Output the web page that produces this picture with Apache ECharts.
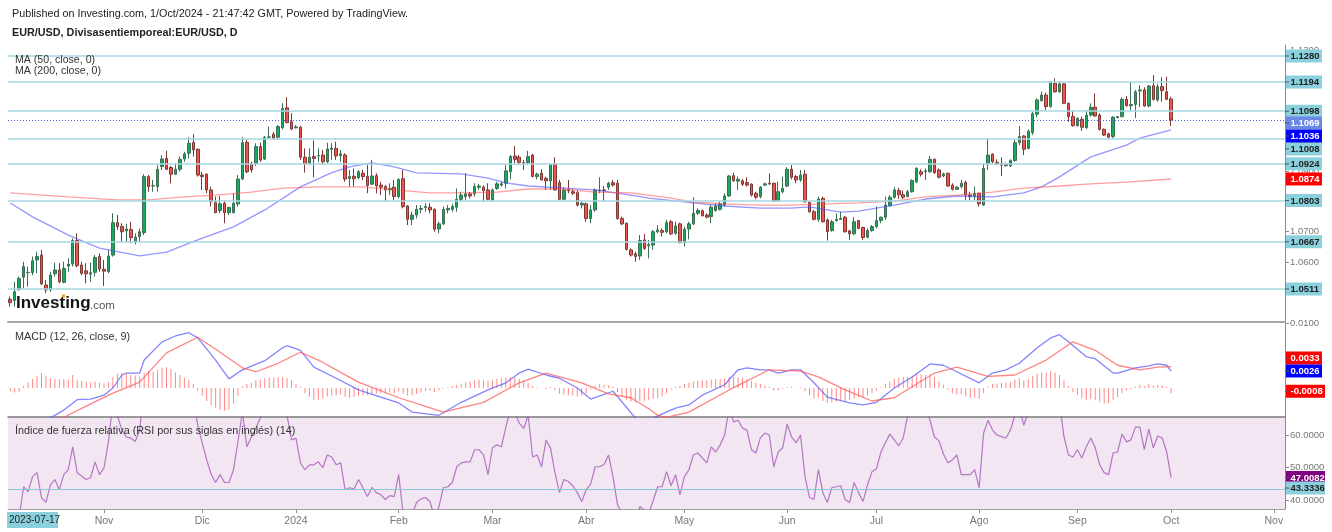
<!DOCTYPE html>
<html>
<head>
<meta charset="utf-8">
<title>EUR/USD</title>
<script src="https://cdn.jsdelivr.net/npm/echarts@6.0.0/dist/echarts.min.js"></script>
<style>
html,body{margin:0;padding:0;background:#ffffff;}
#chart{width:1332px;height:532px;}
</style>
</head>
<body>
<div id="chart"></div>
<script>
// ================= DATA =================
const firstSession = '2023-10-03';
const sessionSlots = 286;                 // weekdays shown on the time axis (incl. empty future)
const monthNames = ['2024','Feb','Mar','Abr','May','Jun','Jul','Ago','Sep','Oct','Nov','Dic'];

// daily candles [open, close, low, high]
const ohlc = [
[1.0477,1.0466,1.0453,1.0486],[1.0473,1.0502,1.0453,1.0535],[1.0510,1.0546,1.0505,1.0552],[1.0550,1.0585,1.0513,1.0601],
[1.0565,1.0566,1.0519,1.0585],[1.0565,1.0604,1.0557,1.0618],[1.0607,1.0618,1.0563,1.0634],[1.0623,1.0528,1.0524,1.0640],
[1.0524,1.0508,1.0497,1.0541],[1.0508,1.0557,1.0502,1.0568],[1.0561,1.0574,1.0552,1.0598],[1.0574,1.0535,1.0530,1.0596],
[1.0533,1.0579,1.0530,1.0601],[1.0587,1.0593,1.0568,1.0612],[1.0594,1.0671,1.0585,1.0678],[1.0671,1.0588,1.0583,1.0695],
[1.0590,1.0563,1.0557,1.0601],[1.0571,1.0561,1.0530,1.0596],[1.0560,1.0565,1.0535,1.0598],[1.0566,1.0615,1.0552,1.0623],
[1.0618,1.0577,1.0568,1.0629],[1.0576,1.0570,1.0521,1.0607],[1.0568,1.0620,1.0563,1.0640],[1.0623,1.0730,1.0618,1.0761],
[1.0730,1.0717,1.0706,1.0755],[1.0717,1.0700,1.0667,1.0728],[1.0703,1.0709,1.0664,1.0726],[1.0707,1.0681,1.0662,1.0733],
[1.0667,1.0682,1.0658,1.0695],[1.0684,1.0700,1.0667,1.0711],[1.0697,1.0882,1.0689,1.0890],[1.0882,1.0849,1.0832,1.0887],
[1.0851,1.0852,1.0832,1.0871],[1.0849,1.0906,1.0832,1.0920],[1.0915,1.0940,1.0904,1.0953],[1.0942,1.0906,1.0904,1.0967],
[1.0912,1.0890,1.0860,1.0917],[1.0890,1.0906,1.0887,1.0926],[1.0906,1.0939,1.0898,1.0948],[1.0940,1.0957,1.0931,1.0964],
[1.0959,1.0992,1.0942,1.1012],[1.0994,1.0970,1.0948,1.1022],[1.0972,1.0887,1.0882,1.0975],[1.0887,1.0882,1.0838,1.0898],
[1.0890,1.0838,1.0827,1.0893],[1.0838,1.0799,1.0783,1.0849],[1.0796,1.0763,1.0761,1.0816],[1.0770,1.0792,1.0761,1.0818],
[1.0794,1.0763,1.0728,1.0803],[1.0763,1.0780,1.0755,1.0783],[1.0763,1.0794,1.0761,1.0827],[1.0792,1.0874,1.0783,1.0887],
[1.0874,1.0994,1.0871,1.1012],[1.0995,1.0898,1.0893,1.1003],[1.0924,1.0904,1.0895,1.0931],[1.0926,1.0981,1.0917,1.0992],
[1.0981,1.0937,1.0931,1.0994],[1.0940,1.1011,1.0937,1.1016],[1.1012,1.1013,1.1008,1.1047],[1.1022,1.1008,1.1005,1.1030],
[1.1012,1.1047,1.1003,1.1052],[1.1043,1.1107,1.1038,1.1124],[1.1109,1.1060,1.1058,1.1144],[1.1063,1.1039,1.1036,1.1091],
[1.1043,1.1046,1.1041,1.1052],[1.1045,1.0946,1.0937,1.1049],[1.0946,1.0924,1.0895,1.0975],[1.0924,1.0946,1.0920,1.0975],
[1.0948,1.0942,1.0880,1.1001],[1.0950,1.0951,1.0931,1.0975],[1.0953,1.0931,1.0920,1.0970],[1.0931,1.0973,1.0926,1.0994],
[1.0972,1.0976,1.0937,1.0992],[1.0975,1.0950,1.0937,1.0997],[1.0951,1.0957,1.0931,1.0970],[1.0953,1.0874,1.0865,1.0959],
[1.0876,1.0882,1.0849,1.0904],[1.0883,1.0875,1.0849,1.0909],[1.0878,1.0898,1.0873,1.0904],[1.0893,1.0882,1.0871,1.0904],
[1.0882,1.0853,1.0827,1.0920],[1.0857,1.0884,1.0854,1.0937],[1.0885,1.0851,1.0827,1.0893],[1.0854,1.0847,1.0821,1.0865],
[1.0849,1.0838,1.0799,1.0854],[1.0838,1.0843,1.0821,1.0860],[1.0847,1.0816,1.0805,1.0871],[1.0816,1.0873,1.0810,1.0876],
[1.0875,1.0783,1.0777,1.0904],[1.0785,1.0741,1.0722,1.0788],[1.0741,1.0755,1.0722,1.0766],[1.0755,1.0774,1.0744,1.0788],
[1.0774,1.0777,1.0761,1.0788],[1.0780,1.0783,1.0766,1.0794],[1.0781,1.0772,1.0761,1.0794],[1.0774,1.0708,1.0700,1.0777],
[1.0709,1.0726,1.0695,1.0733],[1.0726,1.0774,1.0722,1.0783],[1.0772,1.0777,1.0761,1.0788],[1.0774,1.0783,1.0766,1.0792],
[1.0781,1.0807,1.0766,1.0843],[1.0807,1.0821,1.0799,1.0832],[1.0816,1.0825,1.0805,1.0893],[1.0825,1.0818,1.0810,1.0831],
[1.0825,1.0849,1.0816,1.0860],[1.0847,1.0851,1.0838,1.0858],[1.0847,1.0836,1.0799,1.0853],[1.0838,1.0807,1.0803,1.0860],
[1.0805,1.0838,1.0799,1.0843],[1.0843,1.0858,1.0838,1.0865],[1.0854,1.0858,1.0849,1.0865],[1.0860,1.0901,1.0843,1.0920],
[1.0898,1.0948,1.0873,1.0953],[1.0950,1.0939,1.0926,1.0983],[1.0946,1.0929,1.0920,1.0953],[1.0928,1.0926,1.0904,1.0937],
[1.0928,1.0948,1.0924,1.0967],[1.0953,1.0882,1.0880,1.0957],[1.0882,1.0890,1.0873,1.0895],[1.0893,1.0871,1.0869,1.0906],
[1.0876,1.0868,1.0838,1.0882],[1.0868,1.0920,1.0838,1.0926],[1.0924,1.0838,1.0836,1.0946],[1.0862,1.0807,1.0805,1.0871],
[1.0807,1.0838,1.0805,1.0847],[1.0838,1.0835,1.0827,1.0871],[1.0832,1.0827,1.0821,1.0840],[1.0829,1.0788,1.0783,1.0836],
[1.0788,1.0794,1.0777,1.0799],[1.0792,1.0744,1.0733,1.0796],[1.0744,1.0772,1.0728,1.0788],[1.0772,1.0838,1.0766,1.0843],
[1.0835,1.0838,1.0827,1.0880],[1.0838,1.0836,1.0799,1.0851],[1.0847,1.0860,1.0838,1.0865],[1.0862,1.0854,1.0849,1.0871],
[1.0860,1.0744,1.0739,1.0871],[1.0744,1.0726,1.0722,1.0750],[1.0728,1.0642,1.0638,1.0730],[1.0640,1.0623,1.0618,1.0645],
[1.0627,1.0618,1.0601,1.0634],[1.0620,1.0671,1.0607,1.0689],[1.0673,1.0645,1.0640,1.0693],[1.0654,1.0658,1.0612,1.0673],
[1.0656,1.0700,1.0640,1.0706],[1.0700,1.0706,1.0695,1.0722],[1.0704,1.0698,1.0684,1.0711],[1.0700,1.0730,1.0695,1.0739],
[1.0733,1.0693,1.0689,1.0739],[1.0695,1.0719,1.0689,1.0733],[1.0726,1.0664,1.0662,1.0730],[1.0664,1.0708,1.0651,1.0717],
[1.0709,1.0726,1.0675,1.0733],[1.0726,1.0761,1.0722,1.0814],[1.0761,1.0770,1.0755,1.0777],[1.0769,1.0753,1.0750,1.0774],
[1.0755,1.0748,1.0744,1.0761],[1.0750,1.0781,1.0728,1.0788],[1.0770,1.0785,1.0766,1.0794],[1.0774,1.0792,1.0770,1.0799],
[1.0788,1.0818,1.0783,1.0827],[1.0818,1.0884,1.0816,1.0887],[1.0885,1.0868,1.0865,1.0895],[1.0867,1.0873,1.0838,1.0882],
[1.0868,1.0857,1.0851,1.0873],[1.0862,1.0854,1.0849,1.0880],[1.0857,1.0821,1.0816,1.0860],[1.0827,1.0814,1.0807,1.0832],
[1.0816,1.0847,1.0810,1.0851],[1.0854,1.0858,1.0851,1.0862],[1.0860,1.0858,1.0854,1.0893],[1.0860,1.0802,1.0799,1.0862],
[1.0803,1.0832,1.0799,1.0865],[1.0832,1.0843,1.0827,1.0882],[1.0851,1.0906,1.0847,1.0913],[1.0906,1.0880,1.0873,1.0920],
[1.0882,1.0871,1.0860,1.0887],[1.0871,1.0887,1.0865,1.0904],[1.0890,1.0799,1.0796,1.0904],[1.0797,1.0766,1.0763,1.0799],
[1.0766,1.0741,1.0737,1.0772],[1.0741,1.0808,1.0733,1.0816],[1.0810,1.0733,1.0730,1.0816],[1.0739,1.0700,1.0671,1.0744],
[1.0704,1.0733,1.0700,1.0739],[1.0737,1.0741,1.0733,1.0761],[1.0741,1.0744,1.0739,1.0766],[1.0748,1.0700,1.0697,1.0752],
[1.0703,1.0693,1.0673,1.0706],[1.0693,1.0733,1.0689,1.0748],[1.0737,1.0711,1.0708,1.0739],[1.0714,1.0681,1.0673,1.0717],
[1.0682,1.0704,1.0678,1.0711],[1.0704,1.0717,1.0700,1.0722],[1.0717,1.0737,1.0711,1.0783],[1.0737,1.0748,1.0728,1.0750],
[1.0748,1.0788,1.0739,1.0816],[1.0786,1.0814,1.0783,1.0821],[1.0814,1.0838,1.0809,1.0847],[1.0836,1.0822,1.0808,1.0845],
[1.0822,1.0814,1.0808,1.0836],[1.0816,1.0832,1.0814,1.0838],[1.0832,1.0869,1.0829,1.0873],[1.0865,1.0909,1.0860,1.0913],
[1.0898,1.0890,1.0882,1.0906],[1.0898,1.0901,1.0871,1.0909],[1.0898,1.0939,1.0895,1.0950],[1.0939,1.0895,1.0891,1.0942],
[1.0904,1.0880,1.0876,1.0909],[1.0884,1.0891,1.0880,1.0895],[1.0893,1.0851,1.0849,1.0895],[1.0854,1.0840,1.0836,1.0860],
[1.0840,1.0847,1.0838,1.0851],[1.0849,1.0860,1.0843,1.0871],[1.0863,1.0821,1.0805,1.0869],[1.0821,1.0816,1.0805,1.0832],
[1.0816,1.0827,1.0805,1.0849],[1.0827,1.0792,1.0783,1.0829],[1.0788,1.0909,1.0785,1.0926],[1.0924,1.0953,1.0904,1.1008],
[1.0956,1.0931,1.0926,1.0959],[1.0929,1.0924,1.0920,1.0939],[1.0924,1.0920,1.0884,1.0946],[1.0918,1.0922,1.0915,1.0928],
[1.0917,1.0935,1.0915,1.0939],[1.0935,1.0994,1.0931,1.1003],[1.0994,1.1014,1.0986,1.1049],[1.1016,1.0972,1.0953,1.1019],
[1.0975,1.1032,1.0972,1.1038],[1.1027,1.1089,1.1019,1.1096],[1.1088,1.1135,1.1078,1.1140],[1.1133,1.1151,1.1129,1.1162],
[1.1151,1.1113,1.1102,1.1159],[1.1113,1.1193,1.1110,1.1197],[1.1190,1.1162,1.1159,1.1206],[1.1162,1.1188,1.1159,1.1195],
[1.1188,1.1124,1.1121,1.1190],[1.1124,1.1080,1.1063,1.1126],[1.1080,1.1050,1.1047,1.1099],[1.1050,1.1074,1.1047,1.1078],
[1.1071,1.1045,1.1033,1.1080],[1.1044,1.1085,1.1039,1.1102],[1.1085,1.1111,1.1080,1.1124],[1.1111,1.1082,1.1080,1.1157],
[1.1085,1.1038,1.1034,1.1091],[1.1038,1.1019,1.1016,1.1041],[1.1023,1.1012,1.1008,1.1027],[1.1014,1.1078,1.1008,1.1082],
[1.1077,1.1080,1.1074,1.1082],[1.1080,1.1137,1.1077,1.1144],[1.1137,1.1116,1.1113,1.1148],[1.1116,1.1120,1.1102,1.1192],
[1.1120,1.1162,1.1075,1.1168],[1.1165,1.1168,1.1112,1.1184],[1.1168,1.1115,1.1113,1.1177],[1.1115,1.1181,1.1111,1.1184],
[1.1182,1.1137,1.1133,1.1217],[1.1135,1.1179,1.1129,1.1188],[1.1179,1.1166,1.1129,1.1210],[1.1162,1.1137,1.1135,1.1212],
[1.1138,1.1069,1.1049,1.1146]
];

// moving averages: [session index, value]
const ma50Pts = [[0,1.0795],[5,1.0749],[13,1.0689],[20,1.0646],[29,1.0620],[35,1.0633],[42,1.0673],[50,1.0716],[57,1.0772],[65,1.0848],[72,1.0895],[76,1.0914],[81,1.0927],[86,1.0914],[91,1.0894],[101,1.0891],[107,1.0877],[111,1.0861],[116,1.0851],[124,1.0844],[131,1.0838],[139,1.0821],[143,1.0811],[153,1.0795],[160,1.0785],[168,1.0778],[175,1.0778],[179,1.0782],[186,1.0765],[190,1.0768],[198,1.0788],[205,1.0808],[212,1.0818],[220,1.0815],[227,1.0828],[231,1.0848],[235,1.0881],[242,1.0947],[250,1.0986],[253,1.1009],[260,1.1036]];
const ma200Pts = [[0,1.0828],[13,1.0815],[24,1.0805],[31,1.0805],[39,1.0815],[46,1.0821],[54,1.0831],[61,1.0844],[69,1.0848],[79,1.0848],[86,1.0838],[94,1.0828],[101,1.0828],[109,1.0831],[116,1.0841],[124,1.0841],[131,1.0831],[139,1.0828],[148,1.0811],[153,1.0798],[160,1.0792],[168,1.0788],[175,1.0788],[183,1.0792],[190,1.0795],[198,1.0801],[205,1.0815],[212,1.0821],[220,1.0831],[227,1.0844],[235,1.0851],[242,1.0858],[250,1.0864],[260,1.0874]];

// MACD (12,26,9)
const macdPts = [[0,-0.0075],[4,-0.0062],[9,-0.0046],[12,-0.0034],[15,-0.0018],[18,-0.0017],[21,-0.0011],[23,0.0000],[25,0.0020],[26,0.0023],[29,0.0023],[30,0.0043],[34,0.0071],[37,0.0080],[40,0.0085],[42,0.0077],[46,0.0043],[49,0.0014],[52,0.0028],[57,0.0042],[61,0.0062],[62,0.0065],[65,0.0058],[68,0.0032],[73,0.0015],[78,-0.0003],[83,-0.0014],[87,-0.0023],[90,-0.0037],[96,-0.0042],[101,-0.0022],[107,-0.0003],[111,0.0008],[114,0.0023],[116,0.0029],[120,0.0020],[123,0.0015],[127,0.0000],[130,-0.0017],[135,-0.0005],[140,-0.0046],[142,-0.0053],[145,-0.0043],[149,-0.0031],[152,-0.0026],[155,-0.0011],[160,0.0005],[163,0.0028],[165,0.0031],[168,0.0028],[170,0.0028],[172,0.0023],[175,0.0028],[177,0.0028],[180,0.0008],[183,-0.0014],[188,-0.0023],[191,-0.0026],[194,-0.0022],[198,0.0000],[202,0.0017],[206,0.0037],[209,0.0035],[212,0.0025],[217,0.0008],[220,0.0023],[223,0.0028],[226,0.0038],[230,0.0062],[233,0.0077],[235,0.0082],[237,0.0071],[241,0.0048],[243,0.0045],[247,0.0023],[248,0.0023],[252,0.0031],[255,0.0034],[257,0.0037],[259,0.0035],[260,0.0026]];
const signalPts = [[0,-0.0072],[6,-0.0058],[12,-0.0045],[17,-0.0028],[23,-0.0008],[29,0.0009],[35,0.0054],[42,0.0078],[47,0.0055],[52,0.0031],[55,0.0025],[60,0.0038],[65,0.0055],[69,0.0043],[78,0.0009],[87,-0.0015],[97,-0.0037],[106,-0.0022],[114,0.0008],[120,0.0023],[128,0.0008],[134,-0.0009],[139,-0.0015],[143,-0.0032],[145,-0.0042],[147,-0.0045],[152,-0.0037],[161,-0.0003],[170,0.0028],[177,0.0026],[181,0.0017],[187,-0.0003],[193,-0.0020],[198,-0.0015],[207,0.0023],[212,0.0032],[219,0.0018],[225,0.0020],[232,0.0043],[238,0.0071],[243,0.0058],[248,0.0035],[253,0.0028],[257,0.0032],[260,0.0033]];
const histVals = [
-0.0005,-0.0007,-0.0006,0.0003,0.0009,0.0014,0.0019,0.0023,0.0018,0.0015,0.0014,0.0013,0.0014,0.0013,0.0020,0.0012,0.0011,0.0010,0.0009,0.0010,
0.0008,0.0007,0.0009,0.0017,0.0022,0.0023,0.0021,0.0020,0.0019,0.0018,0.0024,0.0026,0.0025,0.0028,0.0031,0.0032,0.0029,0.0024,0.0020,0.0016,
0.0012,0.0006,-0.0004,-0.0012,-0.0020,-0.0026,-0.0031,-0.0034,-0.0035,-0.0033,-0.0024,-0.0012,0.0002,0.0006,0.0008,0.0012,0.0013,0.0015,0.0016,0.0016,
0.0017,0.0017,0.0015,0.0012,0.0006,0.0002,-0.0008,-0.0014,-0.0018,-0.0018,-0.0016,-0.0013,-0.0012,-0.0011,-0.0010,-0.0014,-0.0015,-0.0014,-0.0012,-0.0011,
-0.0011,-0.0009,-0.0009,-0.0008,-0.0008,-0.0007,-0.0008,-0.0005,-0.0009,-0.0012,-0.0011,-0.0009,-0.0007,-0.0005,-0.0004,-0.0006,-0.0004,-0.0001,0.0001,0.0003,
0.0005,0.0007,0.0009,0.0010,0.0012,0.0013,0.0012,0.0011,0.0012,0.0014,0.0015,0.0016,0.0017,0.0016,0.0014,0.0011,0.0008,0.0003,0.0001,0.0000,
-0.0002,0.0001,-0.0004,-0.0009,-0.0010,-0.0011,-0.0012,-0.0013,-0.0012,-0.0008,-0.0002,0.0004,0.0006,0.0005,0.0004,0.0002,-0.0006,-0.0012,-0.0018,-0.0021,
-0.0022,-0.0020,-0.0020,-0.0019,-0.0017,-0.0016,-0.0013,-0.0008,-0.0002,0.0002,0.0003,0.0006,0.0008,0.0010,0.0011,0.0012,0.0012,0.0013,0.0014,0.0014,
0.0015,0.0017,0.0017,0.0016,0.0015,0.0013,0.0011,0.0008,0.0006,0.0004,0.0002,-0.0004,-0.0004,-0.0001,0.0001,0.0002,0.0000,0.0001,-0.0005,-0.0011,
-0.0016,-0.0015,-0.0020,-0.0023,-0.0022,-0.0021,-0.0019,-0.0020,-0.0019,-0.0016,-0.0014,-0.0014,-0.0011,-0.0008,-0.0004,0.0001,0.0006,0.0010,0.0014,0.0016,
0.0017,0.0017,0.0019,0.0022,0.0021,0.0020,0.0021,0.0017,0.0010,0.0005,-0.0002,-0.0008,-0.0010,-0.0010,-0.0013,-0.0015,-0.0015,-0.0017,-0.0008,0.0002,
0.0006,0.0007,0.0008,0.0008,0.0009,0.0013,0.0015,0.0012,0.0014,0.0018,0.0022,0.0024,0.0023,0.0026,0.0024,0.0020,0.0012,0.0003,-0.0006,-0.0011,
-0.0016,-0.0018,-0.0017,-0.0019,-0.0022,-0.0024,-0.0023,-0.0018,-0.0014,-0.0008,-0.0004,-0.0002,0.0002,0.0005,0.0003,0.0006,0.0004,0.0005,0.0004,0.0002,
-0.0008
];

// RSI (14): [session index, value]
const rsiPts = [[0,36],[2,35],[3,44.2],[4,42.7],[5,47.3],[6,48.5],[7,40.9],[8,39.4],[9,44.8],[10,46.4],[11,43.3],[12,47.9],[13,49.4],[14,56.4],[15,48.5],[17,46.4],[18,47.0],[19,51.8],[20,47.9],[21,50.0],[22,58],[23,70],[24,66],[25,61.5],[26,59.4],[27,59.1],[28,58],[29,61.5],[30,75],[31,70],[32,70],[33,72],[34,73],[35,70],[36,68],[37,69],[38,71],[39,72],[40,74],[41,71],[42,63],[43,57.6],[44,52.4],[45,48],[46,45.5],[47,47.9],[48,45.5],[49,45.5],[50,49.4],[51,58],[52,67],[53,56.4],[54,59.4],[55,62],[56,65.2],[57,68],[58,69],[59,68],[60,70],[61,74],[62,66],[63,58.5],[64,59],[65,51.5],[66,49.4],[67,50.9],[68,50.9],[69,51.8],[70,50.0],[71,53.9],[72,53.3],[73,50.9],[74,51.5],[75,43.3],[76,43.9],[77,43.5],[78,46.4],[79,43.9],[80,41.2],[81,44],[82,42.4],[83,41.8],[84,40.3],[85,41.5],[86,41.2],[87,47.9],[88,36],[89,33],[90,36],[91,39.4],[92,40.5],[93,40.9],[94,39.7],[95,35],[96,38],[97,43.9],[98,44.2],[99,45.5],[100,50.3],[101,51.5],[102,51.8],[103,51.8],[104,55.5],[105,55.5],[106,53.9],[107,47.9],[108,56.1],[109,57],[110,56.4],[111,62.4],[112,68],[113,67],[114,63.6],[115,62],[116,66],[117,53.3],[118,53.9],[119,50.3],[120,58.5],[121,56],[122,48.5],[123,42.4],[124,46.4],[125,45.8],[126,44.5],[127,42.4],[128,39.7],[129,43.3],[130,45],[131,50.3],[132,50.3],[133,51],[134,53.9],[135,47.3],[136,38.8],[137,36],[138,33],[139,31],[140,30],[141,38.2],[142,37],[143,36],[144,40],[145,44.2],[146,44.2],[147,48.8],[148,44.5],[149,47.9],[150,41.8],[151,47.3],[152,49.4],[153,53.9],[154,54.5],[155,53.0],[156,51.5],[157,56.4],[158,54.8],[159,57.0],[160,60.0],[161,68],[162,64.0],[163,64.5],[164,62.1],[165,61.5],[166,55.5],[167,54.5],[168,59.1],[169,60.6],[170,60.0],[171,50.3],[172,54.8],[173,56.1],[174,63.3],[175,59.4],[176,57.6],[177,60.0],[178,47.3],[179,40.9],[180,40.3],[181,49.4],[182,42.4],[183,39.4],[184,43.9],[185,44.2],[186,44.5],[187,40.3],[188,39.4],[189,45.5],[190,42.4],[191,39.7],[192,44.8],[193,48.8],[194,49.7],[195,54.8],[196,57.6],[197,60.3],[198,58.5],[199,56.7],[200,59.1],[201,66],[202,68],[203,72],[204,70],[205,69],[206,64.5],[207,59.4],[208,58.2],[209,54.2],[210,51.5],[211,52.4],[212,53.9],[213,47.9],[214,47.9],[215,47.9],[216,49.4],[217,43.9],[218,60.6],[219,64.5],[220,61.5],[221,60.0],[222,59.5],[223,59.1],[224,61.5],[225,66],[226,68],[227,63],[228,67],[229,72],[230,76],[231,77],[232,74],[233,78],[234,75],[235,70],[236,59.4],[237,53.9],[238,53.3],[239,55.5],[240,53.0],[241,56.4],[242,59.1],[243,56.1],[244,50.9],[245,48.5],[246,47.9],[247,54.5],[248,54.8],[249,60.3],[250,57.9],[251,58.5],[252,62.4],[253,62.4],[254,55.5],[255,61.8],[256,56.1],[257,59.7],[258,59.1],[259,54.8],[260,47.0082]];

// horizontal levels and last values
const priceLevels = [1.1280, 1.1194, 1.1098, 1.1008, 1.0924, 1.0803, 1.0667, 1.0511];
const lastClose = 1.1069, ma50Last = 1.1036, ma200Last = 1.0874;
const macdLast = 0.0026, signalLast = 0.0033, histLast = -0.0008;
const rsiLast = 47.0082, rsiLevel = 43.3336;
const priceTicks = [1.05, 1.06, 1.07, 1.08, 1.09, 1.10, 1.11, 1.12, 1.13];
const macdTicks = [0, 0.01];
const rsiTicks = [40, 50, 60];

// ================= CHART =================
function weekdays(start, n) {
  const out = []; const d = new Date(start + 'T00:00:00Z');
  while (out.length < n) {
    const w = d.getUTCDay();
    if (w !== 0 && w !== 6) out.push(d.toISOString().slice(0, 10));
    d.setUTCDate(d.getUTCDate() + 1);
  }
  return out;
}
const categories = weekdays(firstSession, sessionSlots);
const monthOf = s => +s.slice(5, 7);
const isMonthStart = i => i > 0 && monthOf(categories[i]) !== monthOf(categories[i - 1]);

const FONT = 'Liberation Sans, Arial, sans-serif';
const CYAN_BOX = '#8ad0dd', CYAN_LINE = '#a4d8e3';
const L = 8, W = 1277;

const chart = echarts.init(document.getElementById('chart'), null, { renderer: 'canvas', width: 1332, height: 532 });

function xAx(gi, extra) {
  return Object.assign({
    type: 'category', gridIndex: gi, data: categories, boundaryGap: true,
    axisLine: { show: false }, axisTick: { show: false }, axisLabel: { show: false }, splitLine: { show: false }
  }, extra || {});
}
function yAx(gi, min, max, ticks, extra) {
  return Object.assign({
    type: 'value', gridIndex: gi, position: 'right', min: min, max: max,
    axisLine: { show: true, lineStyle: { color: '#8a8a8a', width: 1 } },
    axisTick: { show: true, length: 4, customValues: ticks, lineStyle: { color: '#8a8a8a' } },
    axisLabel: { show: true, customValues: ticks, formatter: v => v.toFixed(4), color: '#777777', fontSize: 9.5, fontFamily: FONT, margin: 5 },
    splitLine: { show: false }
  }, extra || {});
}

const option = {
  animation: false,
  backgroundColor: '#ffffff',
  grid: [
    { left: L, width: W, top: 45, height: 277 },
    { left: L, width: W, top: 322, height: 95 },
    { left: L, width: W, top: 417, height: 92, show: true, backgroundColor: '#f2e6f2', borderWidth: 0 }
  ],
  xAxis: [
    xAx(0, { axisLine: { show: true, onZero: false, lineStyle: { color: '#a8a8a8', width: 2 } } }),
    xAx(1, { axisLine: { show: true, onZero: false, lineStyle: { color: '#7a7a7a', width: 1.5 } } }),
    xAx(2, {
      axisLine: { show: true, onZero: false, lineStyle: { color: '#a0a0a0', width: 1 } },
      axisTick: { show: true, alignWithLabel: true, length: 4, interval: (i) => isMonthStart(i), lineStyle: { color: '#909090' } },
      axisLabel: {
        show: true, interval: (i) => isMonthStart(i), color: '#777777', fontSize: 10.5, fontFamily: FONT, margin: 7,
        formatter: (v) => monthNames[monthOf(v) - 1]
      }
    })
  ],
  yAxis: [
    yAx(0, 1.04021, 1.13163, priceTicks),
    yAx(1, -0.00446, 0.01015, macdTicks),
    yAx(2, 37.4, 65.5, rsiTicks)
  ],
  series: [
    { name: 'levels', type: 'line', xAxisIndex: 0, yAxisIndex: 0, data: [], z: 1, silent: true,
      markLine: { symbol: 'none', silent: true, precision: 4, label: { show: false }, animation: false,
        data: priceLevels.map(v => ({ yAxis: v, lineStyle: { color: CYAN_LINE, width: 1.5, type: 'solid' } }))
          .concat([{ yAxis: lastClose, lineStyle: { color: '#4a5ee0', width: 1, type: [1, 2] } }]) } },
    { name: 'EUR/USD', type: 'candlestick', xAxisIndex: 0, yAxisIndex: 0, data: ohlc, barWidth: 3, z: 3,
      itemStyle: { color: '#17a95f', color0: '#f0554d', borderColor: '#3b6e52', borderColor0: '#7c3832', borderWidth: 1 } },
    { name: 'MA50', type: 'line', xAxisIndex: 0, yAxisIndex: 0, data: ma50Pts, symbol: 'none', z: 4,
      lineStyle: { color: 'rgba(80,80,255,0.6)', width: 1.3 } },
    { name: 'MA200', type: 'line', xAxisIndex: 0, yAxisIndex: 0, data: ma200Pts, symbol: 'none', z: 4,
      lineStyle: { color: 'rgba(255,80,80,0.55)', width: 1.3 } },
    { name: 'Hist', type: 'bar', xAxisIndex: 1, yAxisIndex: 1, data: histVals, barWidth: 1,
      itemStyle: { color: 'rgba(255,70,70,0.65)' } },
    { name: 'MACD', type: 'line', xAxisIndex: 1, yAxisIndex: 1, data: macdPts, symbol: 'none',
      lineStyle: { color: 'rgba(90,90,255,0.75)', width: 1.3 } },
    { name: 'Signal', type: 'line', xAxisIndex: 1, yAxisIndex: 1, data: signalPts, symbol: 'none',
      lineStyle: { color: 'rgba(255,90,90,0.75)', width: 1.3 } },
    { name: 'RSI', type: 'line', xAxisIndex: 2, yAxisIndex: 2, data: rsiPts, symbol: 'none',
      lineStyle: { color: 'rgba(160,80,180,0.75)', width: 1.2 },
      markLine: { symbol: 'none', silent: true, precision: 4, label: { show: false }, animation: false,
        data: [{ yAxis: rsiLevel, lineStyle: { color: '#86c9da', width: 1.2, type: 'solid' } }] } }
  ]
};
chart.setOption(option);

// ---- right-axis value tags and texts ----
const tags = [
  ...priceLevels.map(v => ({ ax: 0, v: v, bg: CYAN_BOX, fg: '#1e1e1e', dy: v === 1.1008 ? 10.5 : 0 })),
  { ax: 0, v: lastClose, bg: '#6a86e6', fg: '#ffffff', dy: 3 },
  { ax: 0, v: ma50Last, bg: '#0000ff', fg: '#ffffff', dy: 6 },
  { ax: 0, v: ma200Last, bg: '#ff0000', fg: '#ffffff', dy: 0 },
  { ax: 1, v: signalLast, bg: '#ff0000', fg: '#ffffff', dy: -8.5 },
  { ax: 1, v: macdLast, bg: '#0000ff', fg: '#ffffff', dy: 0 },
  { ax: 1, v: histLast, bg: '#ff0000', fg: '#ffffff', dy: -2 },
  { ax: 2, v: rsiLast, bg: '#800080', fg: '#ffffff', dy: 0 },
  { ax: 2, v: rsiLevel, bg: CYAN_BOX, fg: '#1e1e1e', dy: -1.5 }
];
const axisX = L + W;
const g = [];
tags.forEach(t => {
  const y = chart.convertToPixel({ yAxisIndex: t.ax }, t.v) + t.dy;
  const s = t.v.toFixed(4);
  const w = s.length > 6 ? 39 : 36;
  g.push({ type: 'rect', z: 100, shape: { x: axisX + 1, y: y - 6.5, width: w, height: 13 }, style: { fill: t.bg } });
  g.push({ type: 'line', z: 101, shape: { x1: axisX, y1: y, x2: axisX + 4, y2: y }, style: { stroke: '#555', lineWidth: 1 } });
  g.push({ type: 'text', z: 102, x: axisX + 5.5, y: y + 0.5, style: { text: s, fill: t.fg, font: 'bold 9.5px ' + FONT, textVerticalAlign: 'middle' } });
});
const txt = (x, y, s, font, fill) => ({ type: 'text', z: 110, x: x, y: y, style: { text: s, font: font, fill: fill || '#222', textVerticalAlign: 'middle' } });
g.push(txt(12, 14, 'Published on Investing.com, 1/Oct/2024 - 21:47:42 GMT, Powered by TradingView.', '10.8px ' + FONT, '#222'));
g.push(txt(12, 33, 'EUR/USD, Divisasentiemporeal:EUR/USD, D', 'bold 10.8px ' + FONT, '#222'));
g.push(txt(15, 60, 'MA (50, close, 0)', '10.6px ' + FONT, '#333'));
g.push(txt(15, 71, 'MA (200, close, 0)', '10.6px ' + FONT, '#333'));
g.push(txt(15, 337, 'MACD (12, 26, close, 9)', '10.8px ' + FONT, '#333'));
g.push(txt(15, 431, 'Índice de fuerza relativa (RSI por sus siglas en inglés) (14)', '10.8px ' + FONT, '#333'));
g.push(txt(16, 303, 'Investing', 'bold 17px ' + FONT, '#151515'));
g.push(txt(90, 305.5, '.com', '11.5px ' + FONT, '#555'));
g.push({ type: 'circle', z: 111, shape: { cx: 63.5, cy: 296, r: 1.7 }, style: { fill: '#f5a01a' } });
g.push({ type: 'rect', z: 105, shape: { x: 7, y: 512, width: 51, height: 16 }, style: { fill: CYAN_BOX } });
g.push(txt(9, 520.5, '2023-07-17', '10px ' + FONT, '#1e1e1e'));
chart.setOption({ graphic: g });
</script>
</body>
</html>
